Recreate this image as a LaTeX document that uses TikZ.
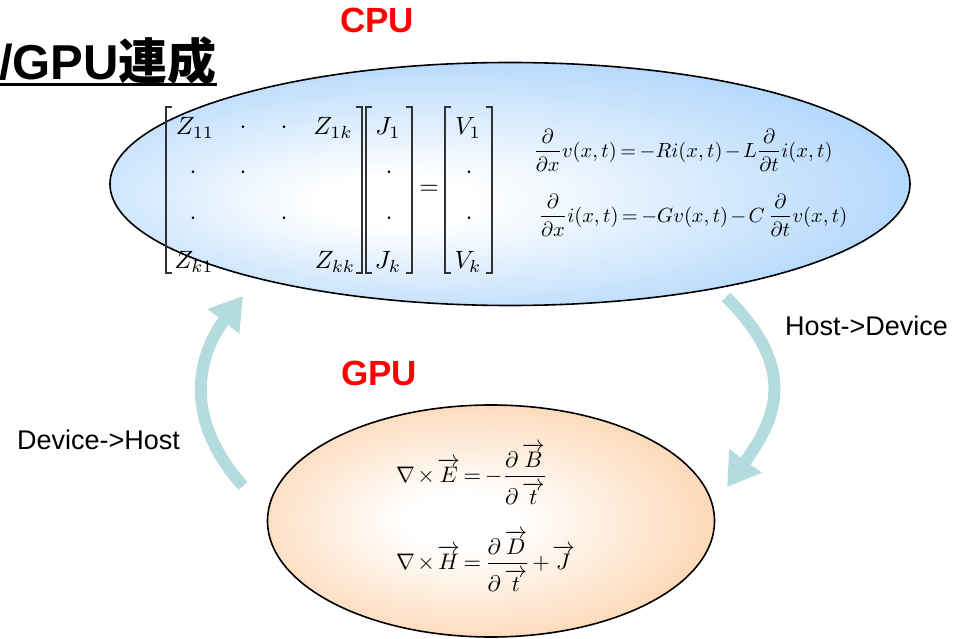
\documentclass[tikz,border=0pt]{standalone}
\usepackage{amsmath}
\usepackage{graphicx}
\usepackage{fontspec}
\setmainfont{Liberation Sans}
\newfontfamily\cjkbold{Noto Sans CJK JP Bold}
\usetikzlibrary{arrows.meta,shapes.geometric}
\definecolor{cpublue}{RGB}{150,200,250}
\definecolor{gpuorange}{RGB}{252,196,146}
\definecolor{arrteal}{RGB}{180,220,222}
\definecolor{brk}{RGB}{50,50,50}
\pgfdeclareradialshading{blueglow}{\pgfpoint{-8bp}{-4bp}}{color(0bp)=(white); color(5bp)=(white); color(38bp)=(cpublue); color(50bp)=(cpublue)}
\pgfdeclareradialshading{orangeglow}{\pgfpoint{-4bp}{0bp}}{color(0bp)=(white); color(6bp)=(white); color(38bp)=(gpuorange); color(50bp)=(gpuorange)}
\newcommand{\mx}[1]{\scalebox{2.5}{$#1$}}
\newcommand{\eqx}[1]{\scalebox{2.05}{$\medmuskip=2mu\thickmuskip=3mu #1$}}
\newcommand{\eqm}[1]{\scalebox{2.25}{$\medmuskip=2mu\thickmuskip=3mu #1$}}
\begin{document}
\begin{tikzpicture}[x=1pt,y=-1pt,
  lbl/.style={inner sep=0pt},
  mtx/.style={inner sep=0pt},
  eqn/.style={inner sep=0pt},
  redlbl/.style={inner sep=0pt,anchor=base,text=red,font=\fontsize{35}{40}\selectfont\bfseries},
  blacklbl/.style={inner sep=0pt,anchor=base west,font=\fontsize{27}{30}\selectfont},
  bigarrow/.style={draw=arrteal,line width=12pt,-{Triangle[width=38pt,length=32pt]}},
  bracket/.style={draw=brk,line width=1.3pt}]
\useasboundingbox (0,0) rectangle (967,639);

% ellipses
\node[ellipse,draw=black,line width=1.6pt,shading=blueglow,minimum width=800pt,minimum height=243pt,inner sep=0pt] (cpu) at (510,184) {};
\node[ellipse,draw=black,line width=1.6pt,shading=orangeglow,minimum width=447pt,minimum height=232pt,inner sep=0pt] (gpu) at (491,521) {};

% titles
\node[lbl,anchor=base west,font=\fontsize{49}{53}\selectfont\bfseries] (title) at (-1,80) {/GPU{\cjkbold 連成}};
\draw[line width=3pt] (title.south west |- 0,85) -- (title.south east |- 0,85);
\node[redlbl] (cpulbl) at (377,33) {CPU};
\node[redlbl] (gpulbl) at (379,385) {GPU};
\node[blacklbl] (h2d) at (785,335) {Host->Device};
\node[blacklbl] (d2h) at (17,449) {Device->Host};

% arrows
\coordinate (la) at (243,486);
\coordinate (lb) at (243,296);
\coordinate (ra) at (726,297);
\coordinate (rb) at (727,487);
\draw[bigarrow] (la) .. controls (175,410) and (205,345) .. (lb);
\draw[bigarrow] (ra) .. controls (800,370) and (775,420) .. (rb);

% matrix brackets
\draw[bracket] (172,107) -- (166,107) -- (166,273) -- (172,273);
\draw[bracket] (356,107) -- (362,107) -- (362,273) -- (356,273);
\draw[bracket] (372,107) -- (366,107) -- (366,273) -- (372,273);
\draw[bracket] (406,107) -- (412,107) -- (412,273) -- (406,273);
\draw[bracket] (451,107) -- (445,107) -- (445,273) -- (451,273);
\draw[bracket] (486,107) -- (492,107) -- (492,273) -- (486,273);

% matrix entries
\node[mtx] (z11) at (195,128) {\mx{Z_{11}}};
\node[mtx] (d12) at (243,128) {\mx{\cdot}};
\node[mtx] (d13) at (284,128) {\mx{\cdot}};
\node[mtx] (z1k) at (333,128) {\mx{Z_{1k}}};
\node[mtx] (d21) at (193,173) {\mx{\cdot}};
\node[mtx] (d22) at (243,173) {\mx{\cdot}};
\node[mtx] (d31) at (193,219) {\mx{\cdot}};
\node[mtx] (d33) at (284,219) {\mx{\cdot}};
\node[mtx] (zk1) at (194,262) {\mx{Z_{k1}}};
\node[mtx] (zkk) at (335,262) {\mx{Z_{kk}}};
\node[mtx] (j1) at (388,128) {\mx{J_{1}}};
\node[mtx] (jd2) at (389,173) {\mx{\cdot}};
\node[mtx] (jd3) at (389,219) {\mx{\cdot}};
\node[mtx] (jk) at (388,262) {\mx{J_{k}}};
\node[mtx] (eq) at (429,190) {\mx{=}};
\node[mtx] (v1) at (468,128) {\mx{V_{1}}};
\node[mtx] (vd2) at (469,173) {\mx{\cdot}};
\node[mtx] (vd3) at (469,219) {\mx{\cdot}};
\node[mtx] (vk) at (468,262) {\mx{V_{k}}};

% telegrapher equations
\node[eqn] (tel1) at (683,150) {\eqx{\dfrac{\partial}{\partial x}v(x,t)=-Ri(x,t)-L\dfrac{\partial}{\partial t}i(x,t)}};
\node[eqn] (tel2) at (693,215) {\eqx{\dfrac{\partial}{\partial x}i(x,t)=-Gv(x,t)-C\,\dfrac{\partial}{\partial t}v(x,t)}};

% Maxwell equations
\node[eqn,anchor=west] (mx1) at (396,474) {\eqm{\nabla\times\overrightarrow{E}=-\dfrac{\partial\,\overrightarrow{B}}{\partial\,\overrightarrow{t}\rule{0pt}{11pt}}}};
\node[eqn,anchor=west] (mx2) at (396,561) {\eqm{\nabla\times\overrightarrow{H}=\dfrac{\partial\,\overrightarrow{D}}{\partial\,\overrightarrow{t}\rule{0pt}{11pt}}+\overrightarrow{J}}};
\end{tikzpicture}
\end{document}
